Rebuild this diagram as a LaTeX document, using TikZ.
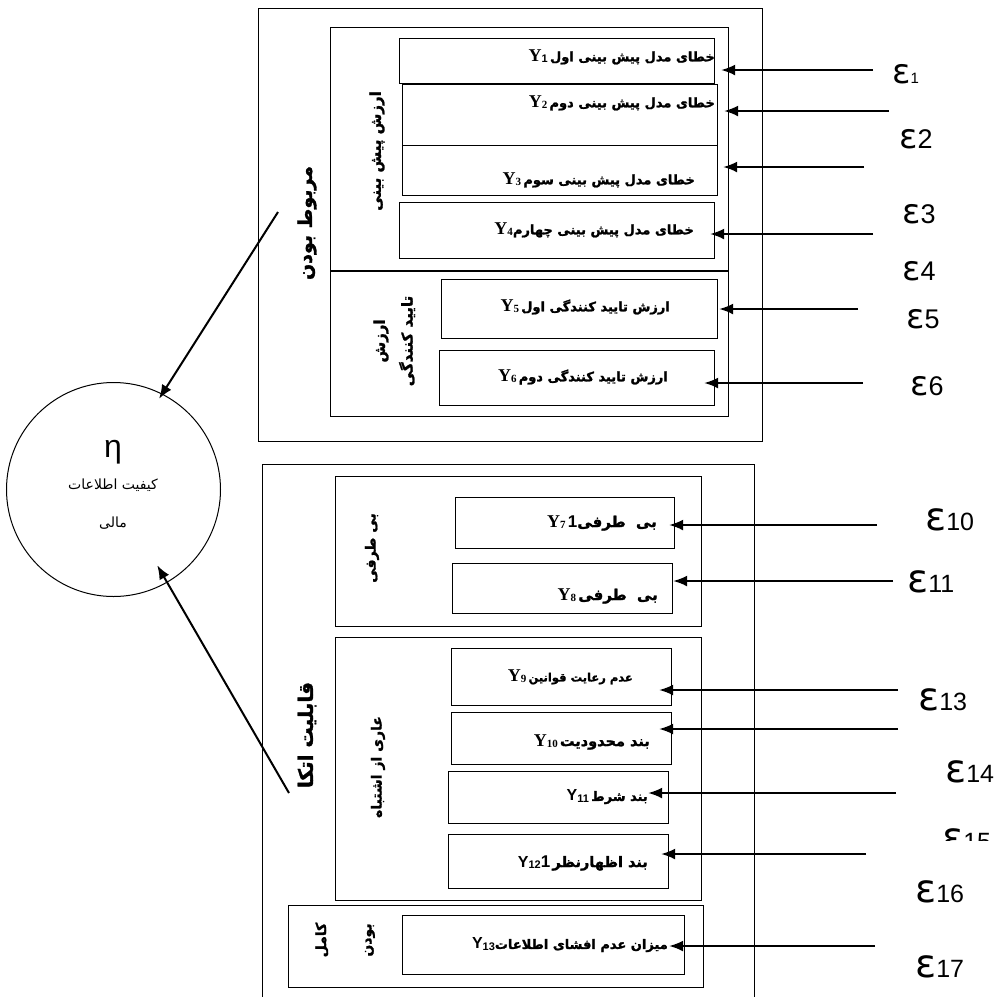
\documentclass[tikz,border=0pt]{standalone}
\usepackage{fontspec}
\usetikzlibrary{arrows.meta}
\TeXXeTstate=1
\setmainfont{Liberation Serif}
\newfontfamily\arabicfont[Script=Arabic, BoldFeatures={FakeBold=1.5}]{DejaVu Sans}
\newfontfamily\epsfont{DejaVu Sans}
\newfontfamily\lsans{Liberation Sans}
\newcommand\fa[1]{{\arabicfont\bfseries\beginR #1\endR}}
\newcommand\faR[1]{{\arabicfont\beginR #1\endR}}
\newcommand\fs[1]{\fontsize{#1}{#1}\selectfont}
\newcommand\ysr[1]{{\bfseries\fontsize{18}{18}\selectfont Y\raisebox{-1.5pt}{\fontsize{11}{11}\selectfont #1}}}
\newcommand\yss[1]{{\lsans\bfseries\fontsize{16}{16}\selectfont Y\raisebox{-1.5pt}{\fontsize{11}{11}\selectfont #1}}}
\newcommand\epsl[3]{{\epsfont\fontsize{#1}{#1}\selectfont ε}{\lsans\fontsize{#2}{#2}\selectfont #3}}
\newcommand\rbox[5]{\node[box, anchor=north west, minimum width={(#4-#2)*1pt}, minimum height={(#5-#3)*1pt}] (#1) at (#2,#3) {};}
\tikzset{
  box/.style={draw, line width=1.2pt, inner sep=0pt},
  arr/.style={-{Latex[length=14pt,width=11pt]}, line width=1.8pt},
  lab/.style={anchor=east, inner sep=0pt, font=\fontsize{13}{15}\selectfont},
  vlab/.style={rotate=90, inner sep=0pt},
  epsn/.style={anchor=base west, inner sep=0pt},
}
\begin{document}
\begin{tikzpicture}[x=1pt,y=-1pt]
\clip (0,0) rectangle (996,997);
\fill[white] (0,0) rectangle (996,997);
% top group
\rbox{rel}{258}{8}{762}{441}
\rbox{pred}{330}{27}{728}{416}
\draw[line width=1.2pt] (pred.west |- 0,271) -- (pred.east |- 0,271);
\rbox{y1}{399}{38}{714}{83}
\rbox{y2}{402}{84}{717}{145}
\rbox{y3}{402}{145}{717}{195}
\rbox{y4}{399}{202}{714}{258}
\rbox{y5}{441}{279}{717}{338}
\rbox{y6}{439}{350}{714}{405}
% bottom group
\rbox{rel2}{262}{464}{754}{1010}
\rbox{gA}{335}{476}{701}{626}
\rbox{gB}{335}{637}{701}{900}
\rbox{gC}{288}{905}{703}{987}
\rbox{y7}{455}{497}{674}{548}
\rbox{y8}{452}{563}{672}{613}
\rbox{y9}{451}{648}{671}{705}
\rbox{y10}{451}{712}{671}{764}
\rbox{y11}{448}{771}{668}{823}
\rbox{y12}{448}{834}{668}{888}
\rbox{y13}{402}{915}{684}{974}
% labels
\node[lab] (l1) at (715,57) {\ysr{\lsans 1}\,\fa{خطای مدل پیش بینی اول}};
\node[lab] (l2) at (715,103) {\ysr{2}\,\fa{خطای مدل پیش بینی دوم}};
\node[lab] (l3) at (695,180) {\ysr{3}\,\fa{خطای مدل پیش بینی سوم}};
\node[lab] (l4) at (694,230) {\ysr{4}\fa{خطای مدل پیش بینی چهارم}};
\node[lab] (l5) at (670,307) {\ysr{5}\,\fa{ارزش تایید کنندگی اول}};
\node[lab] (l6) at (668,377) {\ysr{6}\,\fa{ارزش تایید کنندگی دوم}};
\node[lab] (l7) at (657,523) {\ysr{7}\,{\lsans\bfseries\fontsize{17}{17}\selectfont 1}{\fs{15}\fa{بی\hspace{5pt} طرفی}}};
\node[lab] (l8) at (658,596) {\ysr{8}\,{\fs{15}\fa{بی\hspace{5pt} طرفی}}};
\node[lab] (l9) at (633,677) {\ysr{9}\,{\fs{11.5}\fa{عدم رعایت قوانین}}};
\node[lab] (l10) at (650,742) {\ysr{10}\,{\fs{14.5}\fa{بند محدودیت}}};
\node[lab] (l11) at (648,797) {\yss{11}\,\fa{بند شرط}};
\node[lab] (l12) at (648,863) {\yss{12}{\lsans\bfseries\fontsize{17}{17}\selectfont 1}\,{\fs{14.5}\fa{بند اظهارنظر}}};
\node[lab] (l13) at (668,945) {\yss{13}\fa{میزان عدم افشای اطلاعات}};
% vertical labels
\node[vlab, font=\fontsize{19}{19}\selectfont] (v1) at (307,223) {\fa{مربوط بودن}};
\node[vlab, font=\fontsize{15}{15}\selectfont] (v2) at (377,151) {\fa{ارزش پیش بینی}};
\node[vlab, font=\fontsize{15}{15}\selectfont] (v3) at (381,341) {\fa{ارزش}};
\node[vlab, font=\fontsize{15}{15}\selectfont] (v4) at (407,341) {\fa{تایید کنندگی}};
\node[vlab, font=\fontsize{14}{14}\selectfont] (v5) at (372,548) {\fa{بی طرفی}};
\node[vlab, font=\fontsize{20}{20}\selectfont] (v6) at (307,735) {\fa{قابلیت اتکا}};
\node[vlab, font=\fontsize{14}{14}\selectfont] (v7) at (378,767) {\fa{عاری از اشتباه}};
\node[vlab, font=\fontsize{14}{14}\selectfont] (v8) at (322,940) {\fa{کامل}};
\node[vlab, font=\fontsize{14}{14}\selectfont] (v9) at (370,940) {\fa{بودن}};
% circle
\node[circle, draw, line width=1pt, minimum size=214pt, inner sep=0pt] (eta) at (113.5,489.5) {};
\node[anchor=base, inner sep=0pt, font=\lsans\fontsize{32}{32}\selectfont] (etal) at (113,457) {η};
\node[inner sep=0pt, font=\fontsize{14}{14}\selectfont] (q1) at (113,485) {\faR{کیفیت اطلاعات}};
\node[inner sep=0pt, font=\fontsize{14}{14}\selectfont] (q2) at (113,523) {\faR{مالی}};
\coordinate (c1) at (278,212);
\coordinate (c2) at (289,793);
\draw[arr, line width=2pt, shorten >=-6pt] (c1) -- (eta.63);
\draw[arr, line width=2pt, shorten >=-20pt] (c2) -- (eta.-60);
% error arrows
\coordinate (s1) at (873,70);
\coordinate (s2) at (889,111);
\coordinate (s3) at (864,167);
\coordinate (s4) at (873,234);
\coordinate (s5) at (858,309);
\coordinate (s6) at (863,383);
\coordinate (s7) at (877,525);
\coordinate (s8) at (893,581);
\coordinate (s9) at (898,690);
\coordinate (s10) at (898,729);
\coordinate (s11) at (896,793);
\coordinate (s12) at (866,854);
\coordinate (s13) at (875,946);
\draw[arr, shorten >=6pt] (s1) -- (y1.east |- s1);
\draw[arr, shorten >=6pt] (s2) -- (y2.east |- s2);
\draw[arr, shorten >=5pt] (s3) -- (y3.east |- s3);
\draw[arr, shorten >=-5pt] (s4) -- (y4.east |- s4);
\draw[arr, shorten >=1pt] (s5) -- (y5.east |- s5);
\draw[arr, shorten >=-11pt] (s6) -- (y6.east |- s6);
\draw[arr, shorten >=-6pt] (s7) -- (y7.east |- s7);
\draw[arr] (s8) -- (y8.east |- s8);
\draw[arr, shorten >=-13pt] (s9) -- (y9.east |- s9);
\draw[arr, shorten >=-13pt] (s10) -- (y10.east |- s10);
\draw[arr, shorten >=-21pt] (s11) -- (y11.east |- s11);
\draw[arr, shorten >=-8pt] (s12) -- (y12.east |- s12);
\draw[arr, shorten >=-16pt] (s13) -- (y13.east |- s13);
% epsilon labels
\node[epsn] (e1) at (892,83) {\epsl{34}{15}{1}};
\node[epsn] (e2) at (899,148) {\epsl{34}{27}{2}};
\begin{scope}\clip (880,190) rectangle (990,225);
\node[epsn] (e3) at (902,223) {\epsl{34}{27}{3}};\end{scope}
\begin{scope}\clip (880,250) rectangle (990,280);
\node[epsn] (e4) at (902,280) {\epsl{34}{27}{4}};\end{scope}
\begin{scope}\clip (880,295) rectangle (990,328);
\node[epsn] (e5) at (906,328) {\epsl{34}{27}{5}};\end{scope}
\begin{scope}\clip (880,360) rectangle (990,395);
\node[epsn] (e6) at (910,395) {\epsl{34}{27}{6}};\end{scope}
\node[epsn] (e10) at (925,530) {\epsl{39}{25}{10}};
\node[epsn] (e11) at (907,592) {\epsl{39}{25}{11}};
\node[epsn] (e13) at (918,710) {\epsl{39}{25}{13}};
\node[epsn] (e14) at (945,782) {\epsl{39}{25}{14}};
\begin{scope}\clip (930,815) rectangle (996,840);
\node[epsn] (e15) at (942,850) {\epsl{39}{25}{15}};\end{scope}
\node[epsn] (e16) at (915,902) {\epsl{39}{25}{16}};
\node[epsn] (e17) at (915,977) {\epsl{39}{25}{17}};
\end{tikzpicture}
\end{document}
